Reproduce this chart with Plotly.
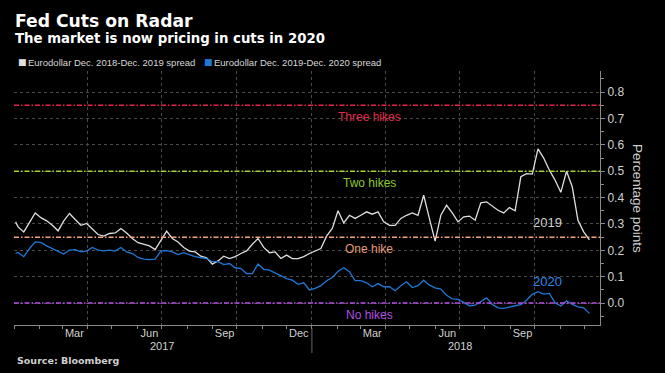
import pandas as pd
import plotly.graph_objects as go

# ---------------- data ----------------
start_date = ["2017-01-03"]
weekly_dates = pd.date_range("2017-01-06", periods=101, freq="7D")
dates = pd.DatetimeIndex(start_date).append(weekly_dates)

spread_2019 = [
    0.308, 0.289, 0.270, 0.308, 0.342, 0.324, 0.312, 0.295, 0.274, 0.312, 0.340,
    0.317, 0.295, 0.302, 0.279, 0.260, 0.254, 0.264, 0.266, 0.283, 0.266,
    0.245, 0.229, 0.223, 0.217, 0.203, 0.239, 0.273, 0.245, 0.232, 0.211,
    0.197, 0.194, 0.178, 0.172, 0.148, 0.160, 0.178, 0.169, 0.176, 0.188,
    0.198, 0.223, 0.245, 0.211, 0.191, 0.194, 0.169, 0.182, 0.169, 0.169,
    0.176, 0.188, 0.197, 0.207, 0.254, 0.283, 0.350, 0.304, 0.333, 0.321,
    0.333, 0.346, 0.337, 0.346, 0.308, 0.295, 0.295, 0.321, 0.333, 0.342,
    0.333, 0.409, 0.320, 0.235, 0.333, 0.371, 0.342, 0.308, 0.327, 0.330,
    0.314, 0.380, 0.384, 0.367, 0.352, 0.342, 0.362, 0.350, 0.479, 0.491,
    0.489, 0.585, 0.550, 0.504, 0.466, 0.420, 0.500, 0.441, 0.314, 0.270, 0.240,
]

spread_2020 = [
    0.188, 0.192, 0.176, 0.207, 0.232, 0.230, 0.217, 0.207, 0.197, 0.186, 0.201,
    0.203, 0.194, 0.197, 0.211, 0.201, 0.198, 0.201, 0.197, 0.211, 0.194,
    0.188, 0.173, 0.167, 0.165, 0.167, 0.198, 0.199, 0.194, 0.184, 0.191,
    0.182, 0.176, 0.172, 0.169, 0.157, 0.157, 0.146, 0.150, 0.134, 0.131,
    0.112, 0.112, 0.148, 0.128, 0.125, 0.115, 0.102, 0.093, 0.087, 0.071,
    0.077, 0.050, 0.056, 0.066, 0.085, 0.097, 0.121, 0.134, 0.119, 0.085,
    0.085, 0.077, 0.062, 0.074, 0.062, 0.062, 0.047, 0.066, 0.081, 0.059,
    0.066, 0.087, 0.068, 0.058, 0.053, 0.030, 0.016, 0.014, 0.003, -0.010,
    -0.008, 0.005, 0.020, -0.005, -0.018, -0.020, -0.014, -0.010, -0.006, 0.011,
    0.033, 0.043, 0.034, 0.037, 0.001, -0.011, 0.009, -0.005, -0.014, -0.018, -0.039,
]

series_names = ["Eurodollar Dec. 2018-Dec. 2019 spread",
                "Eurodollar Dec. 2019-Dec. 2020 spread"]
series_tags = ["2019", "2020"]

hike_levels = [0.75, 0.5, 0.25, 0.0]
hike_labels = ["Three hikes", "Two hikes", "One hike", "No hikes"]

month_tick_dates = ["2017-03-16", "2017-06-16", "2017-09-16", "2017-12-16",
                    "2018-03-16", "2018-06-16", "2018-09-16"]
month_tick_labels = ["Mar", "Jun", "Sep", "Dec", "Mar", "Jun", "Sep"]
quarter_starts = ["2017-04-01", "2017-07-01", "2017-10-01", "2018-01-01",
                  "2018-04-01", "2018-07-01", "2018-10-01"]
month_starts = pd.date_range("2017-01-01", "2018-12-01", freq="MS")
year_label_dates = ["2017-07-01", "2018-07-01"]
year_labels = ["2017", "2018"]
year_break = "2018-01-01"

y_ticks = [0.0, 0.1, 0.2, 0.3, 0.4, 0.5, 0.6, 0.7, 0.8]

# ---------------- style ----------------
WHITE = "#dedede"
BLUE = "#1f78d6"
series_colors = [WHITE, BLUE]
hike_line_colors = ["#e8234c", "#a5d22d", "#f2a37c", "#b54ee6"]
hike_text_colors = ["#e0294e", "#8fc82a", "#e39a73", "#b14fe0"]
BODY = "Liberation Sans, Arial, sans-serif"
HEAD = "DejaVu Sans, Verdana, sans-serif"
x_range = ["2017-01-01", "2018-12-20"]
y_range = [-0.083, 0.88]

fig = go.Figure()

# main series
for vals, nm, col in zip([spread_2019, spread_2020], series_names, series_colors):
    fig.add_trace(go.Scatter(x=dates, y=vals, mode="lines",
                             line=dict(color=col, width=1.3),
                             showlegend=False, name=nm))

# overlay axes (quarter grid / month labels)
fig.add_trace(go.Scatter(x=[dates[0], dates[-1]], y=[None, None], xaxis="x2",
                         mode="lines", showlegend=False, hoverinfo="skip"))
fig.add_trace(go.Scatter(x=[dates[0], dates[-1]], y=[None, None], xaxis="x3",
                         mode="lines", showlegend=False, hoverinfo="skip"))

# hike reference lines
for lvl, col in zip(hike_levels, hike_line_colors):
    fig.add_shape(type="line", xref="paper", yref="y", x0=0, x1=1, y0=lvl, y1=lvl,
                  line=dict(color=col, width=1.5, dash="5px,2px,1.5px,2px"),
                  layer="above")

annotations = []
for lvl, lab, col in zip(hike_levels, hike_labels, hike_text_colors):
    annotations.append(dict(x="2018-03-12", y=lvl, xref="x", yref="y", text=lab,
                            showarrow=False, yanchor="top", yshift=-3,
                            font=dict(family=BODY, size=12, color=col)))

annotations.append(dict(x="2018-10-17", y=0.307, xref="x", yref="y", text=series_tags[0],
                        showarrow=False, font=dict(family=BODY, size=13, color="#cfcfcf")))
annotations.append(dict(x="2018-10-17", y=0.083, xref="x", yref="y", text=series_tags[1],
                        showarrow=False, font=dict(family=BODY, size=13, color="#2a88e6")))

for d, lab in zip(year_label_dates, year_labels):
    annotations.append(dict(x=d, y=-0.083, xref="x", yref="paper", text=lab,
                            showarrow=False, yanchor="middle",
                            font=dict(family=BODY, size=11, color="#d0d0d0")))

# legend (square swatch + label) along the top
legend_swatch_x = [0.0137, 0.3311]
legend_text_x = [0.0205, 0.3380]
for nm, col, sx, tx in zip(series_names, series_colors, legend_swatch_x, legend_text_x):
    annotations.append(dict(x=sx, y=1.035, xref="paper", yref="paper", text="■",
                            xanchor="center", yanchor="middle", showarrow=False,
                            font=dict(family="DejaVu Sans", size=9, color=col)))
    annotations.append(dict(x=tx, y=1.035, xref="paper", yref="paper", text=nm,
                            xanchor="left", yanchor="middle", showarrow=False,
                            font=dict(family=BODY, size=9.5, color="#d8d8d8")))

annotations += [
    dict(x=0, y=1.197, xref="paper", yref="paper", xanchor="left", yanchor="middle",
         text="<b>Fed Cuts on Radar</b>", showarrow=False, xshift=-1,
         font=dict(family=HEAD, size=17.2, color="#ffffff")),
    dict(x=0, y=1.126, xref="paper", yref="paper", xanchor="left", yanchor="middle",
         text="<b>The market is now pricing in cuts in 2020</b>", showarrow=False, xshift=-1,
         font=dict(family=HEAD, size=13.3, color="#ffffff")),
    dict(x=0, y=-0.138, xref="paper", yref="paper", xanchor="left", yanchor="middle",
         text="<b>Source: Bloomberg</b>", showarrow=False, xshift=1,
         font=dict(family=HEAD, size=9.5, color="#cfcfcf")),
    dict(x=1.065, y=0.5, xref="paper", yref="paper", xanchor="center", yanchor="middle",
         text="Percentage points", textangle=90, showarrow=False,
         font=dict(family=BODY, size=13.5, color="#cfcfcf")),
]

# year divider
fig.add_shape(type="line", xref="x", yref="paper", x0=year_break, x1=year_break,
              y0=-0.012, y1=-0.11, line=dict(color="#666666", width=1))

fig.update_layout(
    width=665, height=373,
    paper_bgcolor="#000000", plot_bgcolor="#000000",
    margin=dict(l=14, r=65, t=71, b=48),
    showlegend=False,
    annotations=annotations,
    xaxis=dict(type="date", range=x_range, showgrid=False, zeroline=False,
               showline=True, linecolor="#8a8a8a", linewidth=1,
               tickvals=list(month_starts), ticktext=[""] * len(month_starts),
               ticks="outside", ticklen=3, tickcolor="#8a8a8a"),
    xaxis2=dict(type="date", range=x_range, overlaying="x", matches="x", side="bottom",
                showgrid=True, gridcolor="#4a4a4a", griddash="dot", gridwidth=1,
                zeroline=False, showline=False, ticks="",
                tickvals=quarter_starts, ticktext=[""] * len(quarter_starts),
                layer="below traces"),
    xaxis3=dict(type="date", range=x_range, overlaying="x", matches="x", side="bottom",
                showgrid=False, zeroline=False, showline=False, ticks="",
                tickvals=month_tick_dates, ticktext=month_tick_labels,
                tickfont=dict(family=BODY, size=11, color="#d0d0d0")),
    yaxis=dict(side="right", range=y_range, tickvals=y_ticks, tickformat=".1f",
               showgrid=True, gridcolor="#4a4a4a", griddash="dot", gridwidth=1,
               zeroline=False, showline=True, linecolor="#8a8a8a", linewidth=1,
               ticks="outside", ticklen=4, tickcolor="#8a8a8a",
               minor=dict(dtick=0.05, tick0=0, ticks="outside", ticklen=3,
                          tickcolor="#8a8a8a", showgrid=False),
               tickfont=dict(family=BODY, size=12, color="#d0d0d0"),
               layer="below traces"),
)

fig.write_html("out.html",
               config={"displayModeBar": False},
               post_script="document.body.style.margin='0px';"
                           "document.body.style.overflow='hidden';")
